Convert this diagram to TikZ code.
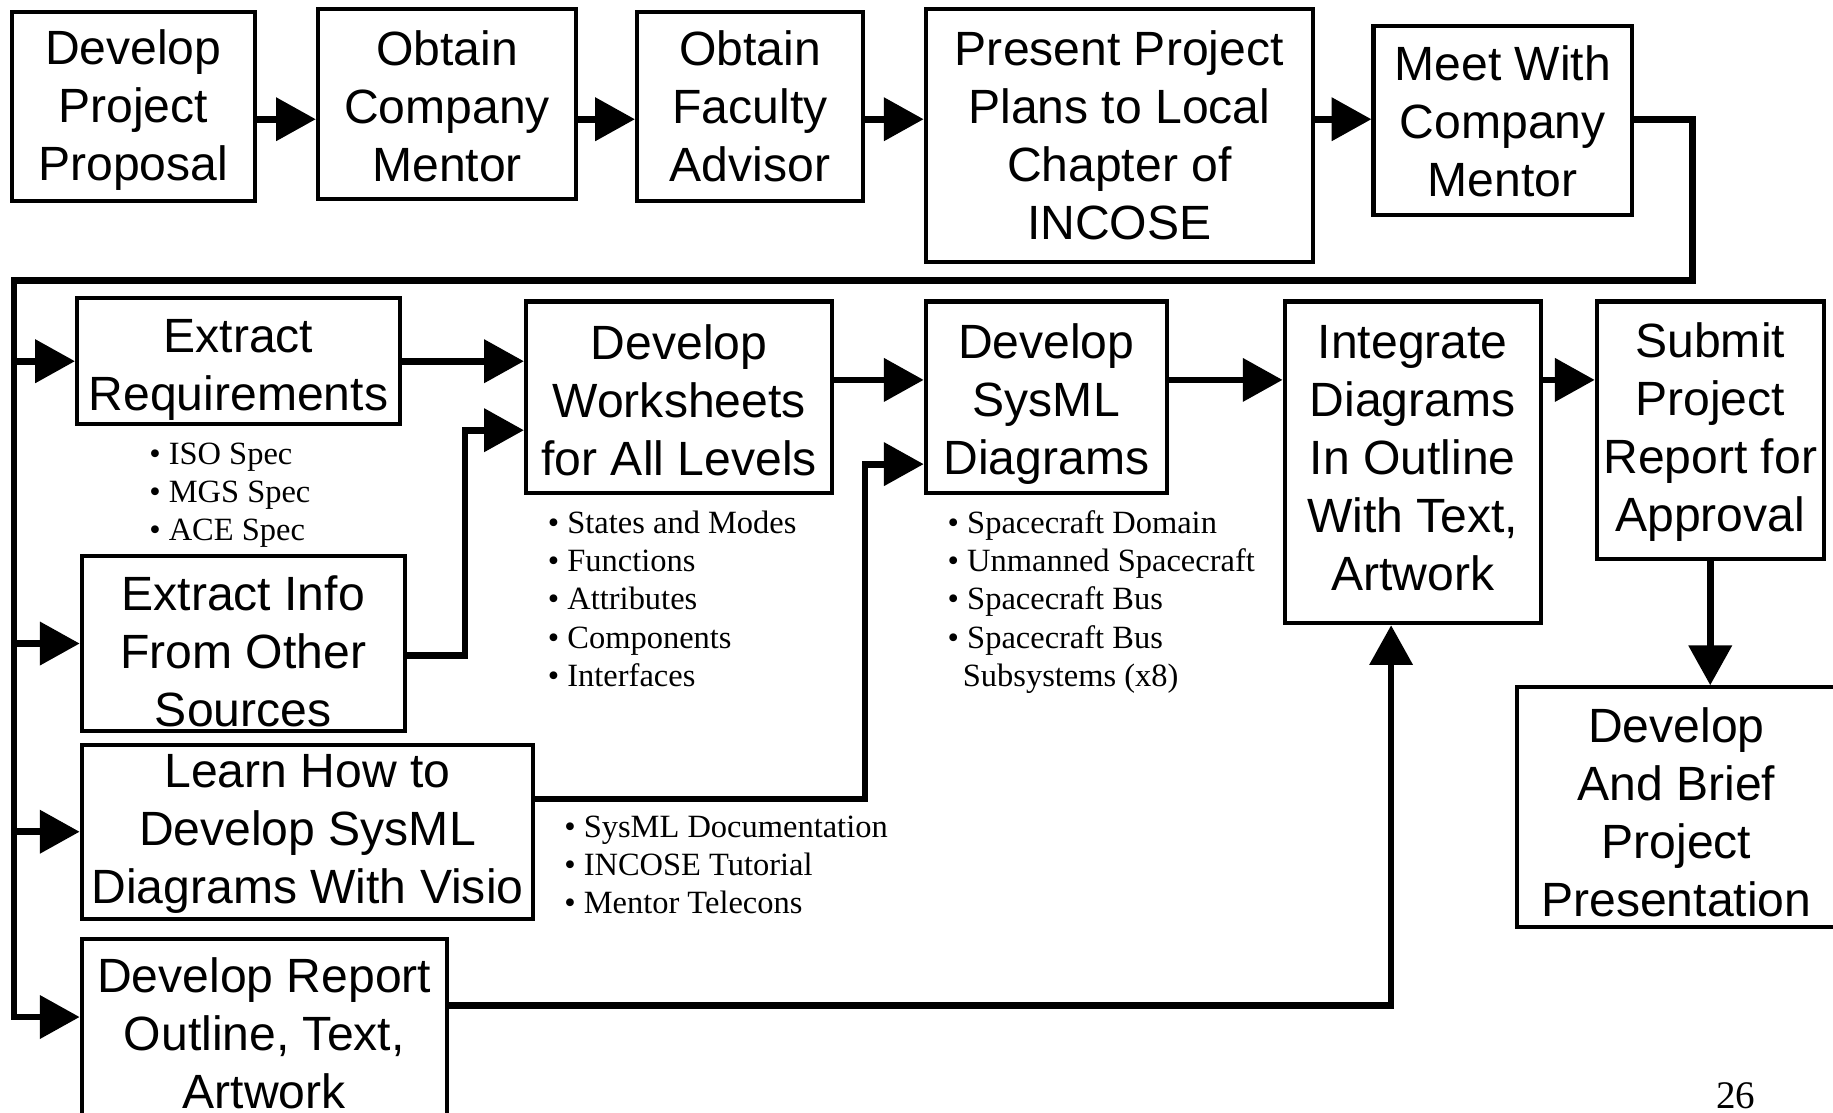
\documentclass[tikz,border=0pt]{standalone}
\usepackage{fontspec}
\setmainfont{Liberation Serif}
\newfontfamily\boxfont{Liberation Sans}
\usetikzlibrary{arrows.meta}
\newcommand{\boxlift}[1]{\rule{0pt}{#1}}
\newcommand{\boxsink}[1]{\rule[-#1]{0pt}{0pt}}
\tikzset{
  stepbox/.style={draw, line width=1pt, inner sep=0pt, align=center,
    font=\boxfont\fontsize{11.7}{14.1}\selectfont},
  flow/.style={line width=1.65pt, -{Triangle[length=0.34cm,width=0.36cm]}},
  bul/.style={anchor=west, inner sep=0pt, text height=0.2cm, text depth=0.06cm,
    font=\fontsize{7.9}{9.4}\selectfont},
}

\begin{document}
\begin{tikzpicture}[x=0.01cm, y=-0.01cm]
        \useasboundingbox (0,0) rectangle (1568,952);
        % top row
        \node[stepbox, minimum width=2.08cm, minimum height=1.62cm] (dpp) at (114,91) {\boxlift{10.5pt}Develop\\Project\\Proposal};
        \node[stepbox, minimum width=2.21cm, minimum height=1.62cm] (ocm) at (382.5,89) {\boxlift{9.4pt}Obtain\\Company\\Mentor};
        \node[stepbox, minimum width=1.93cm, minimum height=1.62cm] (ofa) at (641.5,91) {Obtain\\Faculty\\Advisor};
        \node[stepbox, minimum width=3.31cm, minimum height=2.16cm] (ppp) at (957.5,116) {Present Project\\Plans to Local\\Chapter of\\INCOSE};
        \node[stepbox, minimum width=2.21cm, minimum height=1.62cm] (mwc) at (1285.5,103) {\boxlift{9.1pt}Meet With\\Company\\Mentor};
        % left column
        \node[stepbox, minimum width=2.76cm, minimum height=1.08cm] (er) at (204,309) {\boxlift{12.5pt}Extract\\Requirements};
        \node[stepbox, minimum width=2.76cm, minimum height=1.49cm] (ei) at (208,550.5) {\boxlift{12.2pt}Extract Info\\From Other\\Sources};
        \node[stepbox, minimum width=3.86cm, minimum height=1.49cm] (lh) at (263,711.5) {\boxlift{9.1pt}Learn How to\\Develop SysML\\Diagrams With Visio};
        \node[stepbox, minimum width=3.12cm, minimum height=1.62cm] (dr) at (226,884) {Develop Report\\Outline, Text,\\Artwork};
        % second row
        \node[stepbox, minimum width=2.62cm, minimum height=1.64cm] (dw) at (581,340) {\boxlift{9.9pt}Develop\\Worksheets\\for All Levels};
        \node[stepbox, minimum width=2.06cm, minimum height=1.64cm] (ds) at (895,340) {\boxlift{11.9pt}Develop\\SysML\\Diagrams};
        \node[stepbox, minimum width=2.19cm, minimum height=2.75cm] (id) at (1208.5,395.5) {Integrate\\Diagrams\\In Outline\\With Text,\\Artwork\boxsink{2pt}};
        \node[stepbox, minimum width=1.94cm, minimum height=2.20cm] (sp) at (1463,368) {\boxlift{9.6pt}Submit\\Project\\Report for\\Approval};
        \node[stepbox, minimum width=2.72cm, minimum height=2.05cm] (db) at (1434,690.5) {\boxlift{11.1pt}Develop\\And Brief\\Project\\Presentation};

        \coordinate (r1) at (0,102);
        \coordinate (r2) at (0,325);
        \coordinate (turn) at (1448,240);
        \coordinate (bus) at (12,240);
        \coordinate (r5) at (0,870);

        \draw[flow] (dpp.east |- r1) -- (ocm.west |- r1);
        \draw[flow] (ocm.east |- r1) -- (ofa.west |- r1);
        \draw[flow] (ofa.east |- r1) -- (ppp.west |- r1);
        \draw[flow] (ppp.east |- r1) -- (mwc.west |- r1);
        \draw[flow] (mwc.east |- r1) -- (turn |- r1) -- (turn) -- (bus) -- (bus |- r5) -- (dr.west |- r5);
        \draw[flow] (bus |- er.west) -- (er.west);
        \draw[flow] (bus |- ei.west) -- (ei.west);
        \draw[flow] (bus |- lh.west) -- (lh.west);

        \draw[flow] (er.east) -- (er.east -| dw.west);
        \draw[flow] ([yshift=-0.1cm]ei.east) -- ++(50,0) |- ([yshift=-0.28cm]dw.west);
        \draw[flow] (dw.east |- r2) -- (ds.west |- r2);
        \draw[flow] ([yshift=0.28cm]lh.east) -- ++(282,0) |- ([yshift=-0.57cm]ds.west);
        \draw[flow] (ds.east |- r2) -- (id.west |- r2);
        \draw[flow] (id.east |- r2) -- (sp.west |- r2);
        \draw[flow] (sp.south) -- (sp.south |- db.north);
        \draw[flow] ([yshift=0.24cm]dr.east) -| ([xshift=-0.185cm]id.south);

        % bullet lists
        \foreach \txt [count=\i from 0] in {ISO Spec, MGS Spec, ACE Spec}
        \node[bul] (req\i) at (127,390+32.8*\i) {• \txt};
        \foreach \txt [count=\i from 0] in {States and Modes, Functions, Attributes, Components, Interfaces}
        \node[bul] (ws\i) at (468,449+32.8*\i) {• \txt};
        \foreach \txt [count=\i from 0] in {Spacecraft Domain, Unmanned Spacecraft, Spacecraft Bus, Spacecraft Bus}
        \node[bul] (sm\i) at (810,449+32.8*\i) {• \txt};
        \node[bul] (sm4) at (823,580) {Subsystems (x8)};
        \foreach \txt [count=\i from 0] in {SysML Documentation, INCOSE Tutorial, Mentor Telecons}
        \node[bul] (lr\i) at (482,709+32.8*\i) {• \txt};

        \node[inner sep=0pt, font=\fontsize{9.5}{11}\selectfont] (page) at (1485,937) {26};
    \end{tikzpicture}
\end{document}
